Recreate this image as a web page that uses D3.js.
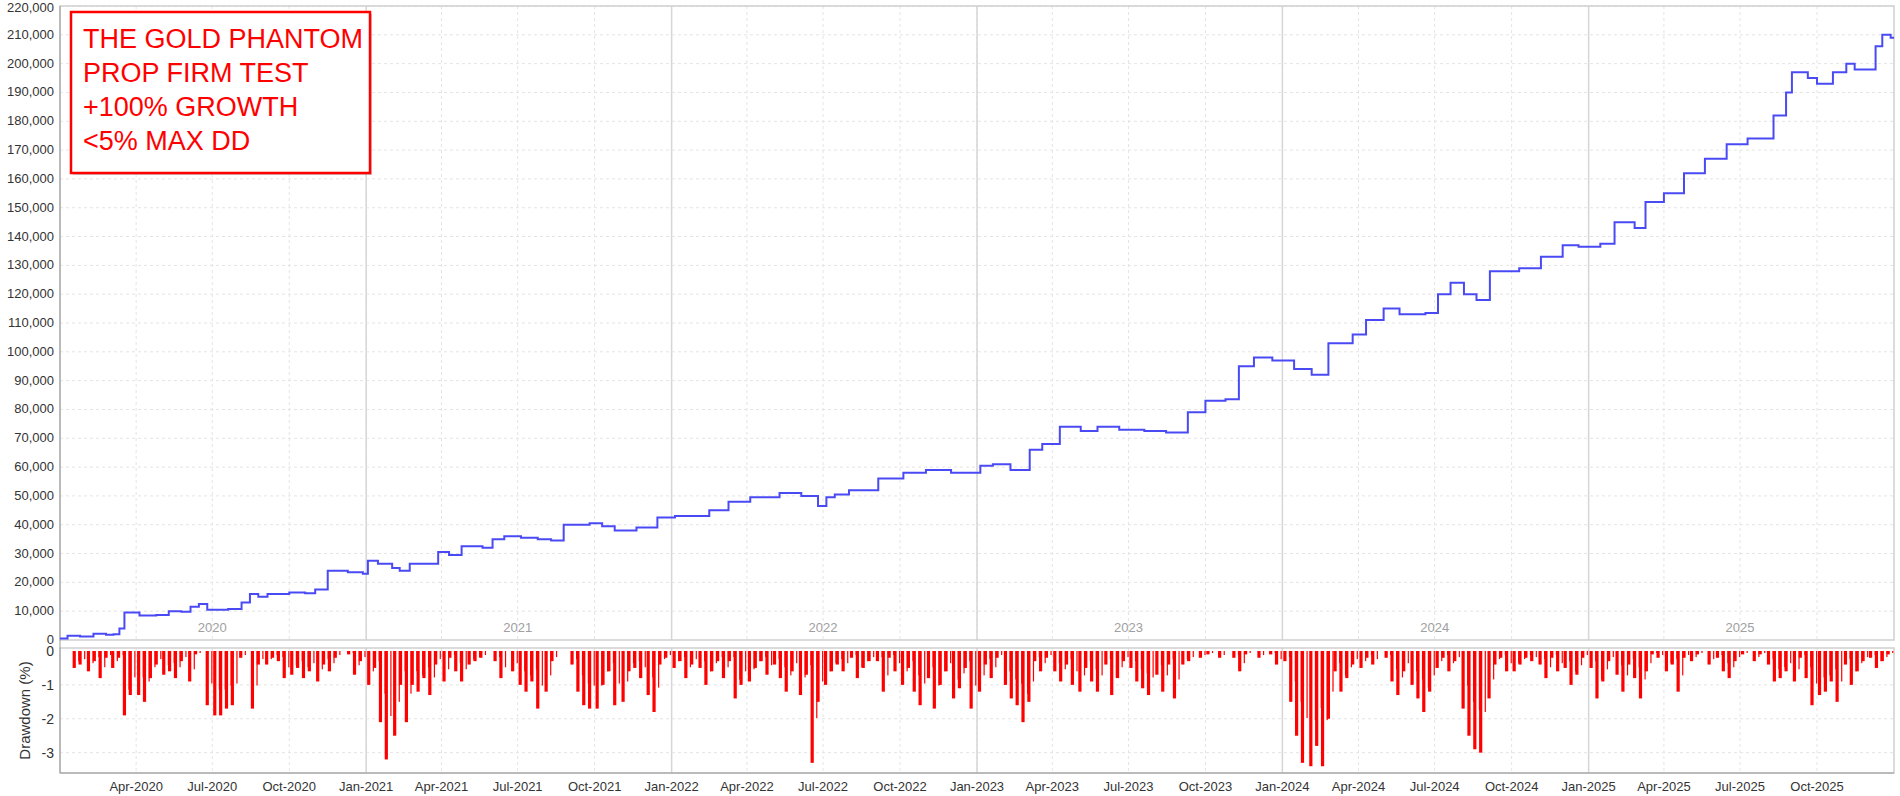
<!DOCTYPE html>
<html><head><meta charset="utf-8">
<script src="https://cdn.jsdelivr.net/npm/d3@7"></script>
<style>body{margin:0;background:#fff;font-family:Arial,"Liberation Sans",sans-serif}</style>
</head><body><svg id="c" width="1900" height="796"></svg>
<script>
// equity steps: [date, balance]
var equity = [
 ['2020-01-01',500],['2020-01-10',1500],['2020-01-25',1200],['2020-02-10',2200],['2020-02-25',1800],['2020-03-05',2000],['2020-03-12',4000],['2020-03-18',9500],
 ['2020-04-05',8500],['2020-04-25',8700],['2020-05-10',10000],['2020-05-25',9800],['2020-06-05',11500],['2020-06-15',12500],['2020-06-25',10500],['2020-07-20',10800],
 ['2020-08-05',13000],['2020-08-15',16000],['2020-08-25',15000],['2020-09-05',16000],['2020-10-01',16500],['2020-10-20',16200],['2020-11-01',17500],['2020-11-16',24000],
 ['2020-12-10',23500],['2020-12-28',23000],['2021-01-03',27500],['2021-01-15',26500],['2021-02-01',25000],['2021-02-10',24000],['2021-02-22',26500],['2021-03-28',30500],
 ['2021-04-10',29500],['2021-04-25',32500],['2021-05-20',32000],['2021-06-01',35000],['2021-06-15',36000],['2021-07-05',35500],['2021-07-25',35000],['2021-08-10',34500],
 ['2021-08-25',40000],['2021-09-25',40500],['2021-10-10',39500],['2021-10-25',38000],['2021-11-20',39000],['2021-12-15',42500],['2022-01-05',43000],['2022-02-15',45000],
 ['2022-03-10',48000],['2022-04-05',49500],['2022-05-10',51000],['2022-06-05',50000],['2022-06-25',46500],['2022-07-05',49500],['2022-07-15',50500],['2022-08-01',52000],
 ['2022-09-05',56000],['2022-10-05',58000],['2022-11-01',59000],['2022-12-01',58000],['2023-01-05',60500],['2023-01-20',61000],['2023-02-10',59000],['2023-03-05',66000],
 ['2023-03-20',68000],['2023-04-10',74000],['2023-05-05',72500],['2023-05-25',74000],['2023-06-20',73000],['2023-07-20',72500],['2023-08-15',72000],['2023-09-10',79000],
 ['2023-10-01',83000],['2023-10-25',83500],['2023-11-10',95000],['2023-11-28',98000],['2023-12-20',97000],['2024-01-15',94000],['2024-02-05',92000],['2024-02-25',103000],
 ['2024-03-25',106000],['2024-04-10',111000],['2024-05-01',115000],['2024-05-20',113000],['2024-06-20',113500],['2024-07-05',120000],['2024-07-20',124000],['2024-08-05',120000],
 ['2024-08-20',118000],['2024-09-05',128000],['2024-10-10',129000],['2024-11-05',133000],['2024-12-01',137000],['2024-12-20',136500],['2025-01-15',137500],['2025-02-01',145000],
 ['2025-02-25',143000],['2025-03-10',152000],['2025-04-01',155000],['2025-04-25',162000],['2025-05-20',167000],['2025-06-15',172000],['2025-07-10',174000],['2025-08-10',182000],
 ['2025-08-25',190000],['2025-09-01',197000],['2025-09-20',195000],['2025-10-01',193000],['2025-10-20',197000],['2025-11-05',200000],['2025-11-15',198000],['2025-12-10',206000],
 ['2025-12-18',210000],['2025-12-28',209000],['2026-01-01',209000]
];

// drawdown, four values per month (approx. weekly), one row per year
var ddYears = [2020,2021,2022,2023,2024,2025];
var ddValues = [
 [0,0,-0.5,-0.4, -0.6,-0.3,-0.8,-0.2, -0.5,-0.2,-1.9,-1.3, -1.3,-1.5,-0.8,-0.4, -0.7,-0.6,-0.8,-0.3, -0.9,-0.1,0,-1.6, -1.9,-1.9,-1.7,-1.6, -0.2,0,-1.7,-0.4, -0.4,-0.2,-0.3,-0.8, -0.7,-0.5,-0.8,-0.6, -0.9,-0.4,-0.6,-0.2, 0,-0.1,-0.7,-0.3],
 [-1.0,-0.5,-2.1,-3.2, -2.5,-1.0,-2.1,-1.0, -1.2,-0.8,-1.3,-0.4, -0.9,-0.2,-0.6,-0.9, -0.4,-0.3,-0.2,0, -0.3,-0.8,0,-0.6, -1.0,-1.2,-0.9,-1.7, -1.2,-0.3,0,0, -0.4,-1.2,-1.6,-1.7, -1.7,-1.0,-0.6,-1.6, -1.5,-0.6,-0.5,-0.8, -1.3,-1.8,-0.4,-0.2],
 [-0.5,-0.3,-0.8,-0.4, -0.5,-1.0,-0.6,-0.3, -0.8,-0.3,-1.4,-1.0, -0.9,-0.5,-0.3,-0.7, -0.4,-0.8,-1.2,-0.6, -1.3,-0.7,-3.3,-1.5, -1.0,-0.6,-0.4,-0.6, -0.2,-0.8,-0.5,-0.3, -0.3,-1.2,-0.2,-0.6, -1.0,-0.5,-1.2,-1.6, -0.8,-1.7,-1.0,-0.6, -1.4,-1.1,-0.5,-1.7],
 [-1.2,-0.4,-0.8,-0.2, -1.0,-1.4,-1.6,-2.1, -1.5,-0.3,-0.6,-0.2, -0.6,-0.9,-0.4,-1.0, -1.2,-0.5,-0.9,-1.2, -0.4,-1.3,-0.8,-0.3, -0.5,-0.9,-1.1,-1.3, -0.7,-1.2,-0.4,-1.4, -0.4,-0.3,0,-0.2, -0.1,0,-0.2,0, -0.2,-0.6,-0.1,0, -0.2,0,-0.1,-0.4],
 [-0.3,-1.5,-2.5,-3.3, -3.4,-2.8,-3.4,-2.0, -0.6,-1.2,-0.8,-0.4, -0.5,-0.2,-0.4,0, -0.2,-0.9,-1.3,-0.6, -1.0,-1.4,-1.8,-1.2, -0.5,-0.2,-0.6,-0.3, -1.7,-2.5,-2.9,-3.0, -1.4,-0.4,-0.2,-0.6, -0.6,-0.4,-0.2,-0.3, -0.4,-0.8,-0.2,-0.6, -0.5,-1.0,-0.7,-0.2],
 [-0.5,-1.4,-0.9,-0.3, -0.7,-1.2,-0.4,-0.8, -1.4,-0.6,-0.1,-0.2, -0.6,-0.4,-1.2,-0.2, -0.3,-0.1,0,-0.4, -0.2,-0.6,-0.8,-0.3, -0.1,0,-0.3,-0.1, -0.4,-0.9,-0.8,-0.6, -0.9,-0.2,-0.8,-1.6, -1.3,-1.2,-0.9,-1.5, -0.4,-1.0,-0.6,-0.3, -0.2,-0.5,-0.3,-0.1]
];
var equityTicks = d3.range(0, 220001, 10000);
var ddTicks = [0, -1, -2, -3];
var titleLines = ['THE GOLD PHANTOM', 'PROP FIRM TEST', '+100% GROWTH', '<5% MAX DD'];

var svg = d3.select('#c');
var L = 60, R = 1894, T = 6, B1 = 640, T2 = 648, B2 = 773;
var parse = d3.timeParse('%Y-%m-%d');
var x = d3.scaleTime().domain([new Date(2020, 0, 1), new Date(2026, 0, 1)]).range([L, R]);
var y = d3.scaleLinear().domain([0, 220000]).range([B1, T]);
var y2 = d3.scaleLinear().domain([0, -3.6]).range([T2 + 3, B2]);

var months = d3.timeMonth.every(3).range(new Date(2020, 3, 1), new Date(2026, 0, 1));
var years = d3.timeYear.range(new Date(2021, 0, 1), new Date(2026, 0, 1));
var fmt = d3.format(',');

// grids
[[T, B1], [T2, B2]].forEach(function (p) {
  svg.selectAll(null).data(months).enter().append('line')
    .attr('x1', x).attr('x2', x).attr('y1', p[0]).attr('y2', p[1])
    .attr('stroke', '#e4e4e4').attr('stroke-dasharray', '3,3');
  svg.selectAll(null).data(years).enter().append('line')
    .attr('x1', x).attr('x2', x).attr('y1', p[0]).attr('y2', p[1])
    .attr('stroke', '#d6d6d6').attr('stroke-width', 1.5);
});
svg.selectAll(null).data(equityTicks.slice(1)).enter().append('line')
  .attr('x1', L).attr('x2', R).attr('y1', y).attr('y2', y)
  .attr('stroke', '#e4e4e4').attr('stroke-dasharray', '3,3');
svg.selectAll(null).data(ddTicks.slice(1)).enter().append('line')
  .attr('x1', L).attr('x2', R).attr('y1', y2).attr('y2', y2)
  .attr('stroke', '#e4e4e4').attr('stroke-dasharray', '3,3');

// frames
svg.append('rect').attr('x', L).attr('y', T).attr('width', R - L).attr('height', B1 - T)
  .attr('fill', 'none').attr('stroke', '#cfcfcf').attr('stroke-width', 1.5);
svg.append('rect').attr('x', L).attr('y', T2).attr('width', R - L).attr('height', B2 - T2)
  .attr('fill', 'none').attr('stroke', '#cfcfcf').attr('stroke-width', 1.5);
svg.append('line').attr('x1', L).attr('x2', L).attr('y1', T).attr('y2', B2).attr('stroke', '#999');
svg.append('line').attr('x1', L).attr('x2', R).attr('y1', B2).attr('y2', B2).attr('stroke', '#999');

// year labels inside plot
svg.selectAll(null).data(d3.range(2020, 2026)).enter().append('text')
  .attr('x', function (d) { return x(new Date(d, 6, 1)); }).attr('y', B1 - 8)
  .attr('text-anchor', 'middle').attr('fill', '#a0a0a0').attr('font-size', 13).text(String);

// equity line
var eq = equity.map(function (d) { return [parse(d[0]), d[1]]; });
svg.append('path').datum(eq)
  .attr('d', d3.line().x(function (d) { return x(d[0]); }).y(function (d) { return y(d[1]); }).curve(d3.curveStepAfter))
  .attr('fill', 'none').attr('stroke', '#4a4af5').attr('stroke-width', 2);

// drawdown bars
var dd = [];
ddYears.forEach(function (yr, i) {
  ddValues[i].forEach(function (v, j) {
    var m = Math.floor(j / 4), w = j % 4;
    dd.push([new Date(yr, m, 1 + w * 7 + 3), v]);
  });
});
svg.selectAll(null).data(dd).enter().append('rect')
  .attr('x', function (d) { return x(d[0]) - 1.6; }).attr('width', 3.2)
  .attr('y', y2(0)).attr('height', function (d) { return y2(d[1]) - y2(0); })
  .attr('fill', '#ff0000');
svg.selectAll(null).data(dd).enter().append('rect')
  .attr('x', function (d) { return x(d[0]) + 4; }).attr('width', 1.2)
  .attr('y', y2(0)).attr('height', function (d) { return (y2(d[1]) - y2(0)) * 0.6; })
  .attr('fill', '#ff0000');

// axes labels
svg.selectAll(null).data(equityTicks).enter().append('text')
  .attr('x', L - 6).attr('y', function (d) { return d === 220000 ? y(d) + 6 : y(d) + 4; })
  .attr('text-anchor', 'end').attr('font-size', 13).attr('fill', '#333').text(fmt);
svg.selectAll(null).data(ddTicks).enter().append('text')
  .attr('x', L - 6).attr('y', function (d) { return y2(d) + 5; })
  .attr('text-anchor', 'end').attr('font-size', 14).attr('fill', '#333').text(String);
svg.selectAll(null).data(months).enter().append('text')
  .attr('x', x).attr('y', B2 + 18).attr('text-anchor', 'middle')
  .attr('font-size', 13).attr('fill', '#333').text(d3.timeFormat('%b-%Y'));
svg.append('text').attr('transform', 'translate(' + 30 + ',' + (T2 + B2) / 2 + ') rotate(-90)')
  .attr('text-anchor', 'middle').attr('font-size', 15).attr('fill', '#333').text('Drawdown (%)');

// title box
svg.append('rect').attr('x', 73).attr('y', 14).attr('width', 299).attr('height', 161)
  .attr('fill', '#999').attr('opacity', 0.5);
svg.append('rect').attr('x', 71).attr('y', 12).attr('width', 299).attr('height', 161)
  .attr('fill', '#fff').attr('stroke', '#ff0000').attr('stroke-width', 2.5);
svg.selectAll(null).data(titleLines).enter().append('text')
  .attr('x', 83).attr('y', function (d, i) { return 48 + i * 34; })
  .attr('font-size', 27).attr('fill', '#ff0000').text(String);
</script></body></html>
